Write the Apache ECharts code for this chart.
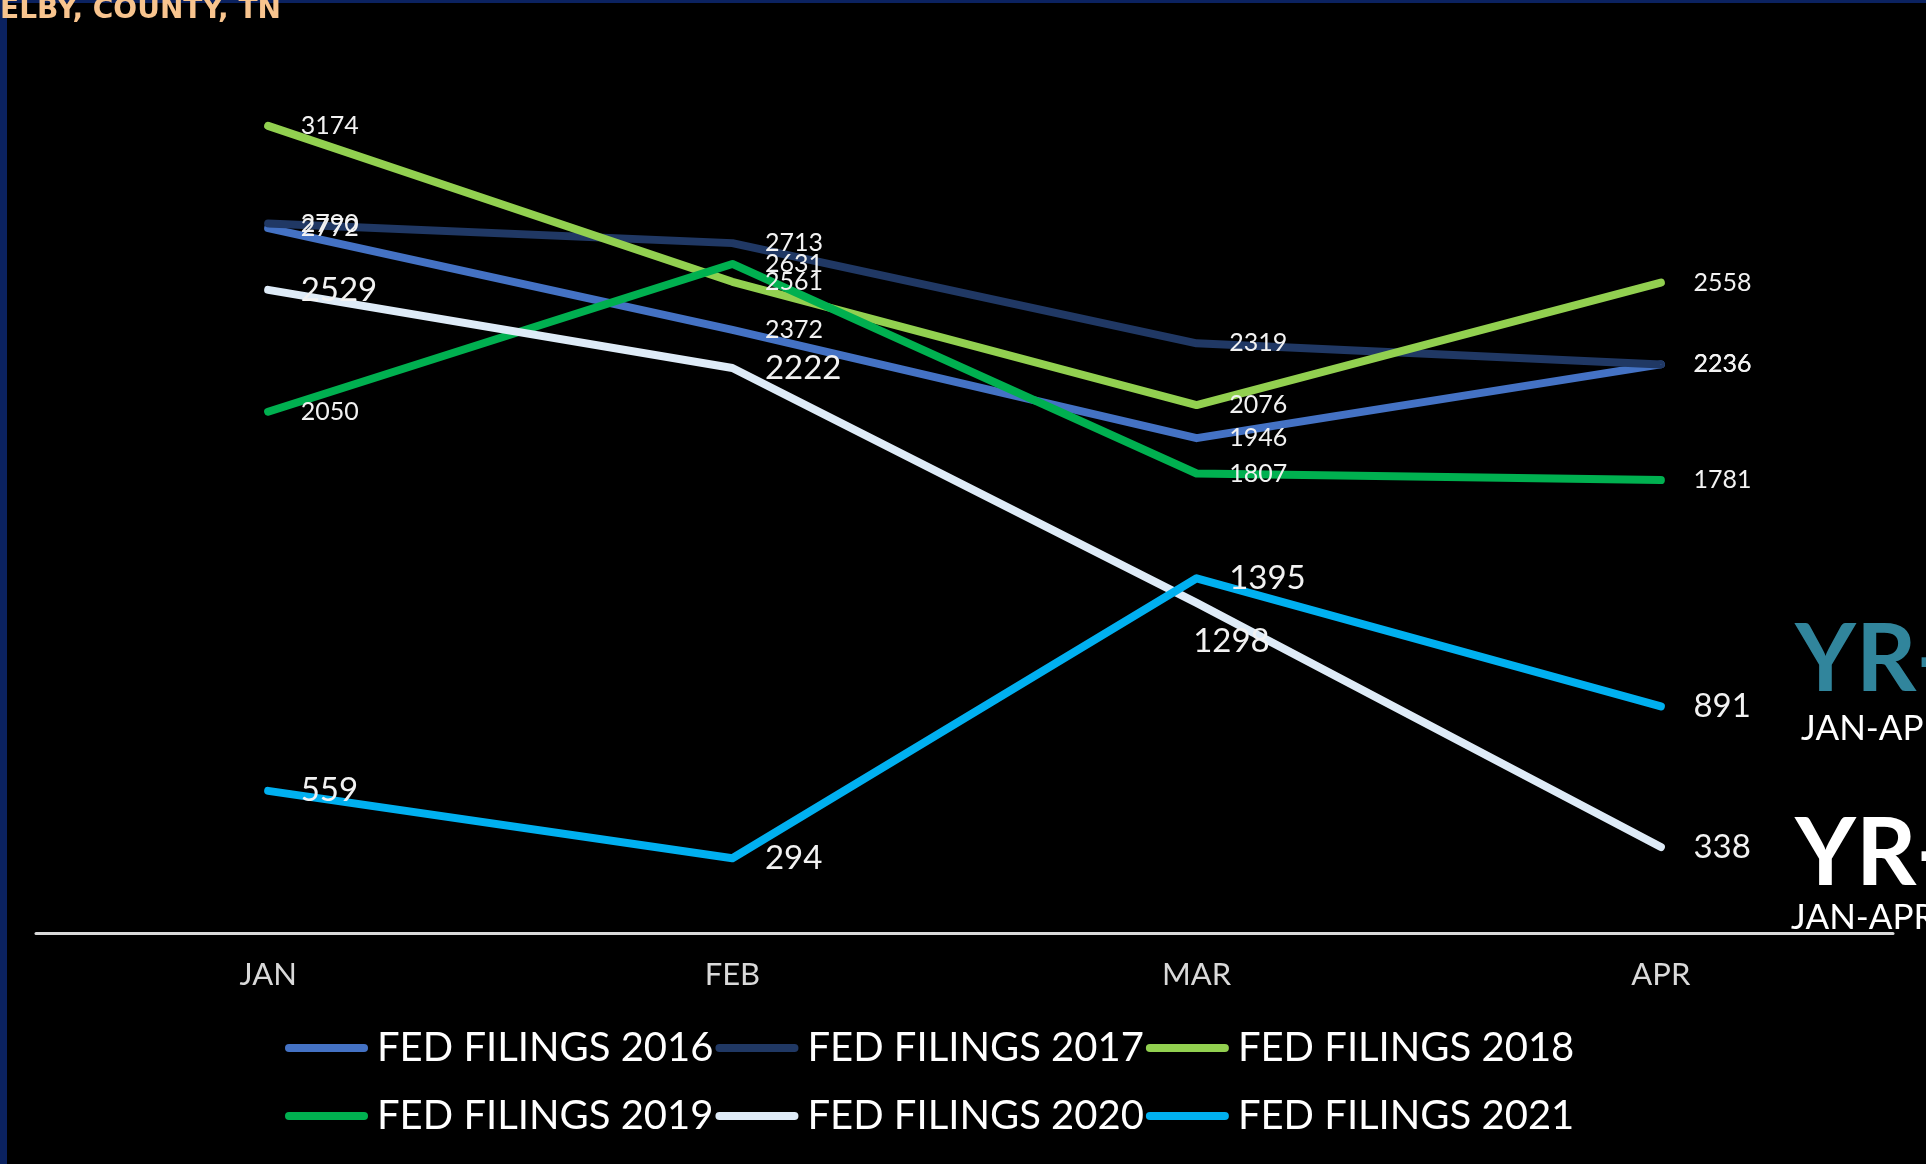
<!DOCTYPE html>
<html>
<head>
<meta charset="utf-8">
<script src="https://cdn.jsdelivr.net/npm/echarts@6/dist/echarts.min.js"></script>
<style>
  html, body { margin: 0; padding: 0; background: #000; }
  #chart { width: 1926px; height: 1164px; }
</style>
</head>
<body>
<div id="chart"></div>
<script>
const months = ["JAN", "FEB", "MAR", "APR"];
const fed2016 = [2772, 2372, 1946, 2236];
const fed2017 = [2790, 2713, 2319, 2236];
const fed2018 = [3174, 2561, 2076, 2558];
const fed2019 = [2050, 2631, 1807, 1781];
const fed2020 = [2529, 2222, 1298, 338];
const fed2021 = [559, 294, 1395, 891];

const seriesNames = [
  "FED FILINGS 2016", "FED FILINGS 2017", "FED FILINGS 2018",
  "FED FILINGS 2019", "FED FILINGS 2020", "FED FILINGS 2021"
];
const seriesValues = [fed2016, fed2017, fed2018, fed2019, fed2020, fed2021];
const colors = ["#4472c4", "#203864", "#92d050", "#00b050", "#deebf7", "#00b0f0"];

const chart = echarts.init(document.getElementById("chart"));

// capsule shape for the legend keys
const capsule = "path://M4,0 L79,0 A4,4 0 0 1 79,8 L4,8 A4,4 0 0 1 4,0 Z";

const series = seriesValues.map((vals, i) => {
  const big = i >= 4;
  return {
    name: seriesNames[i],
    type: "line",
    data: vals.map((v, j) => {
      // the 2020 march label sits under the line
      if (i === 4 && j === 2) {
        return { value: v, label: { position: "right", distance: -4, offset: [0, 38] } };
      }
      return v;
    }),
    symbol: "circle",
    symbolSize: 1,
    itemStyle: { color: colors[i] },
    lineStyle: { color: colors[i], width: 8, cap: "round", join: "round" },
    label: {
      show: true,
      position: "right",
      distance: 32,
      color: "#f2f2f2",
      fontFamily: "Lato",
      fontSize: big ? 33 : 25
    },
    emphasis: { disabled: true }
  };
});

const legendBase = {
  left: 285,
  padding: 0,
  itemGap: 2,
  itemWidth: 83,
  itemHeight: 8,
  icon: capsule,
  textStyle: { color: "#fff", fontFamily: "Lato", fontSize: 40, padding: [0, 0, 0, 4] }
};

const option = {
  backgroundColor: "#000",
  animation: false,
  title: {
    text: "ELBY, COUNTY, TN",
    left: 0,
    top: -3,
    padding: 0,
    textStyle: {
      color: "#f8c48e",
      fontFamily: "DejaVu Sans",
      fontWeight: "bold",
      fontSize: 28
    }
  },
  grid: { left: 36, right: 33, top: 43, bottom: 231 },
  xAxis: {
    type: "category",
    data: months,
    boundaryGap: true,
    axisLine: { lineStyle: { color: "#d9d9d9", width: 3 } },
    axisTick: { show: false },
    axisLabel: {
      color: "#d9d9d9",
      fontFamily: "Lato",
      fontSize: 31,
      margin: 26
    }
  },
  yAxis: {
    type: "value",
    min: 0,
    max: 3500,
    show: false,
    splitLine: { show: false }
  },
  legend: [
    Object.assign({}, legendBase, { data: seriesNames.slice(0, 3), top: 1028 }),
    Object.assign({}, legendBase, { data: seriesNames.slice(3), top: 1096 })
  ],
  graphic: [
    { type: "rect", shape: { x: 0, y: 0, width: 1926, height: 3 }, style: { fill: "#0b2260" }, z: -1 },
    { type: "rect", shape: { x: 0, y: 0, width: 7, height: 1164 }, style: { fill: "#0b2260" }, z: -1 },
    {
      type: "text", left: 1795, top: 614,
      style: { text: "YR-", fill: "#31859c", font: "bold 94px Lato" }
    },
    {
      type: "text", left: 1801, top: 711,
      style: { text: "JAN-APR", fill: "#fff", font: "35px Lato" }
    },
    {
      type: "text", left: 1795, top: 808,
      style: { text: "YR-", fill: "#fff", font: "bold 94px Lato" }
    },
    {
      type: "text", left: 1791, top: 900,
      style: { text: "JAN-APR", fill: "#fff", font: "35px Lato" }
    }
  ],
  series: series
};

chart.setOption(option);
window.addEventListener("resize", chart.resize);
</script>
</body>
</html>
